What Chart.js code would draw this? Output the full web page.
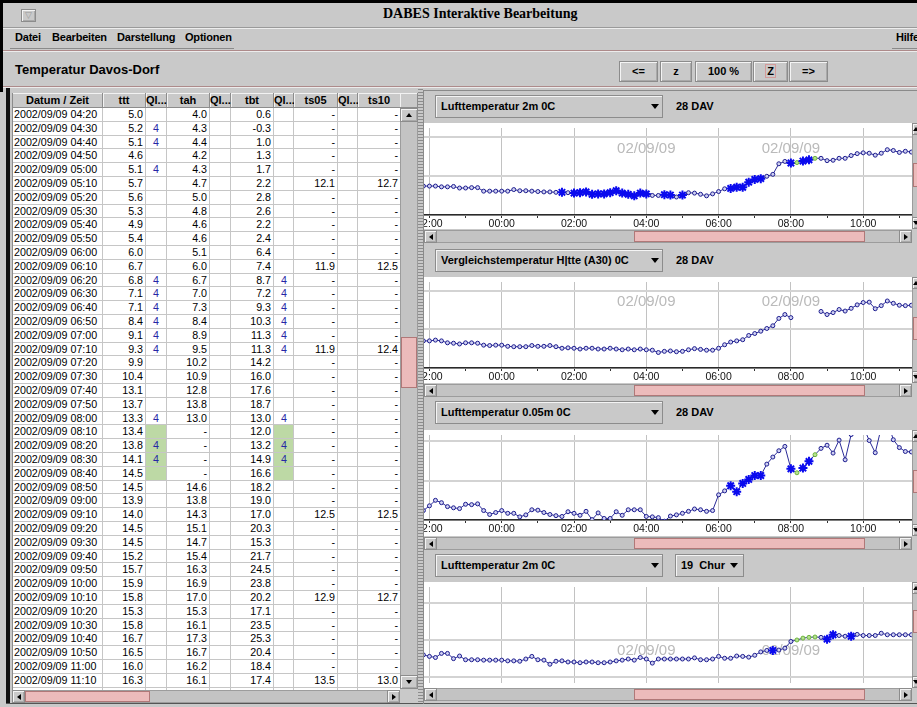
<!DOCTYPE html>
<html lang="de">
<head>
<meta charset="utf-8">
<title>DABES Interaktive Bearbeitung</title>
<script src="https://cdn.jsdelivr.net/npm/chart.js@4.4.1/dist/chart.umd.min.js"></script>
<style>
  html, body { margin: 0; padding: 0; }
  body {
    position: relative; width: 917px; height: 707px; overflow: hidden;
    background: #c9c9c9; color: #000;
    font-family: "Liberation Sans", Arial, Helvetica, sans-serif;
  }
  .a { position: absolute; box-sizing: border-box; }
  .b { font-weight: bold; font-size: 11px; white-space: nowrap; }
  .btn {
    background: #c9c9c9; border: 1px solid #8c8c8c;
    box-shadow: inset 1px 1px 0 #f4f4f4, inset -1px -1px 0 #a9a9a9;
  }
  .combo {
    background: #c9c9c9; border: 1px solid #8c8c8c;
    box-shadow: inset 1px 1px 0 #f4f4f4;
  }
  .thumb {
    background-color: #dea3a3;
    background-image: radial-gradient(circle, #f4c9c9 0.6px, rgba(0,0,0,0) 0.9px);
    background-size: 2px 2px;
    border: 1px solid #b07878;
  }
  .track { background: #c3c3c3; border: 1px solid #9c9c9c; }
  .cell {
    background: #fff; border-right: 1px solid #c6c6c6; border-bottom: 1px solid #c6c6c6;
    font-size: 10.7px; white-space: nowrap; overflow: hidden; line-height: 13px;
  }
  .hcell {
    background: #c9c9c9; border-right: 1px solid #8c8c8c; border-bottom: 1px solid #8c8c8c;
    box-shadow: inset 1px 1px 0 #f2f2f2;
    font-weight: bold; font-size: 11px; text-align: center; line-height: 14px; white-space: nowrap;
  }
  .plotwrap { overflow: hidden; background: #fff; }
  canvas { position: absolute; }
</style>
</head>
<body>
<script>
// ---------------------------------------------------------------------------
// Time grid: one reading every 10 minutes, 2002/09/08 21:50 .. 2002/09/09 11:20
// ---------------------------------------------------------------------------
const firstMinute = -130;          // minutes relative to 2002/09/09 00:00
const stepMinutes = 10;
const dayLabel = '2002/09/09';
const dateMark = '02/09/09';

// Lufttemperatur 2m, Davos (ttt)
const ttt = [
  7.4, 7.4, 7.4, 7.2, 7.2, 7.3, 6.9, 6.9, 7.0, 7.0, 6.1, 6.1, 6.1, 6.1, 6.1, 6.5,
  6.2, 6.2, 6.1, 6.0, 5.9, 5.9, 5.8, 5.8, 5.7, 5.6, 5.7, 5.9, 5.3, 5.4, 5.4, 5.7,
  6.2, 5.6, 5.3, 4.9, 5.6, 5.4, 5.0,
  5.0, 5.2, 5.1, 4.6, 5.1, 5.7, 5.6, 5.3, 4.9, 5.4, 6.0, 6.7, 6.8, 7.1, 7.1, 8.4,
  9.1, 9.3, 9.9, 10.4, 13.1, 13.7, 13.3, 13.4, 13.8, 14.1, 14.5, 14.5, 13.9, 14.0,
  14.5, 14.5, 15.2, 15.7, 15.9, 15.8, 15.3, 15.8, 16.7, 16.5, 16.0, 16.3, 16.1
];
// Vergleichstemperatur Huette (A30), Davos (tah)
const tah = [
  7.0, 7.0, 7.2, 7.0, 6.5, 6.4, 6.2, 6.5, 6.5, 6.4, 5.9, 5.8, 5.9, 5.9, 5.6, 5.5,
  5.5, 5.5, 5.8, 5.6, 5.6, 5.8, 5.5, 5.1, 5.2, 5.1, 4.9, 5.1, 5.1, 4.9, 4.9, 5.1,
  4.9, 4.7, 4.9, 4.7, 4.9, 4.7, 4.6,
  4.0, 4.3, 4.4, 4.2, 4.3, 4.7, 5.0, 4.8, 4.6, 4.6, 5.1, 6.0, 6.7, 7.0, 7.3, 8.4,
  8.9, 9.5, 10.2, 10.9, 12.8, 13.8, 13.0, null, null, null, null, 14.6, 13.8, 14.3,
  15.1, 14.7, 15.4, 16.3, 16.9, 17.0, 15.3, 16.1, 17.3, 16.7, 16.2, 16.1, 16.2
];
// Lufttemperatur 0.05m, Davos (tbt)
const tbt = [
  2.4, 3.6, 5.0, 4.4, 3.4, 3.1, 2.9, 4.0, 3.9, 4.1, 2.4, 1.4, 1.9, 2.4, 1.7, 1.7,
  0.8, 1.3, 2.6, 2.5, 1.9, 1.4, 1.1, 0.9, 2.1, 1.7, 1.2, 2.2, 0.1, 1.8, 0.4, 0.4,
  2.1, 1.2, 2.6, 2.6, 2.6, 0.9, 0.8,
  0.6, -0.3, 1.0, 1.3, 1.7, 2.2, 2.8, 2.6, 2.2, 2.4, 6.4, 7.4, 8.7, 7.2, 9.3, 10.3,
  11.3, 11.3, 14.2, 16.0, 17.6, 18.7, 13.0, 12.0, 13.2, 14.9, 16.6, 18.2, 19.0, 17.0,
  20.3, 15.3, 21.7, 24.5, 23.8, 20.2, 17.1, 23.5, 25.3, 20.4, 18.4, 17.4, 17.3
];
// Lufttemperatur 2m, Chur
const chur = [
  16.0, 15.6, 15.3, 16.4, 16.4, 15.0, 15.7, 14.7, 14.7, 14.7, 14.6, 14.6, 14.6, 14.6,
  14.4, 14.4, 14.3, 14.9, 15.6, 14.7, 14.6, 13.5, 14.3, 14.4, 14.1, 14.1, 13.9, 14.1,
  14.1, 13.9, 13.9, 14.1, 14.4, 14.6, 14.9, 14.6, 15.3, 14.9, 13.8,
  14.9, 14.9, 14.9, 14.9, 14.9, 14.9, 15.2, 14.7, 14.7, 14.9, 15.6, 15.1, 15.1, 15.7,
  15.6, 15.4, 15.9, 16.8, 17.2, 17.2, 17.3, 17.8, 19.6, 20.0, 20.5, 20.7, 20.8, 20.7,
  20.2, 21.4, 21.2, 21.0, 21.0, 21.5, 21.2, 21.2, 21.2, 21.8, 21.4, 21.4, 21.4, 21.4, 21.4
];

// Quality flag 4 (drawn as stars, "4" in the QI column)
const tttFlagged = ['01:40', '02:00', '02:10', '02:20', '02:30', '02:40', '02:50', '03:00',
  '03:10', '03:20', '03:30', '03:40', '03:50', '04:00', '04:30', '04:40', '05:00',
  '06:20', '06:30', '06:40', '06:50', '07:00', '07:10', '08:00', '08:20', '08:30'];
const tahFlagged = [];
const tbtFlagged = ['06:20', '06:30', '06:40', '06:50', '07:00', '07:10', '08:00', '08:20', '08:30'];
const churFlagged = ['07:30', '09:00', '09:10', '09:40'];
// Edited readings (green)
const tttEdited = ['08:10', '08:20', '08:30', '08:40'];
const tahEdited = [];
const tbtEdited = ['08:10', '08:20', '08:30', '08:40'];
const churEdited = ['08:10', '08:20', '08:30', '08:40'];

// Soil temperatures (hourly, table only)
const soilTimes = ['05:10', '06:10', '07:10', '09:10', '10:10', '11:10'];
const ts05 = [12.1, 11.9, 11.9, 12.5, 12.9, 13.5];
const ts10 = [12.7, 12.5, 12.4, 12.5, 12.7, 13.0];

const tableFirstTime = '04:20';
const tableColumns = ['Datum / Zeit', 'ttt', 'Ql...', 'tah', 'Ql...', 'tbt', 'Ql...', 'ts05', 'Ql...', 'ts10'];
const hourTicks = [-120, -60, 0, 60, 120, 180, 240, 300, 360, 420, 480, 540, 600, 660];
const dateMarkMinutes = [240, 480];

// ---------------------------------------------------------------------------
const minuteOf = i => firstMinute + i * stepMinutes;
const hhmm = m => {
  const t = ((m % 1440) + 1440) % 1440;
  return String(Math.floor(t / 60)).padStart(2, '0') + ':' + String(t % 60).padStart(2, '0');
};
const timeOf = i => hhmm(minuteOf(i));
const fmt = v => (v === null || v === undefined) ? '-' : v.toFixed(1);

const body = document.body;
function box(x, y, w, h, cls, css, parent) {
  const d = document.createElement('div');
  d.className = 'a' + (cls ? ' ' + cls : '');
  Object.assign(d.style, { left: x + 'px', top: y + 'px', width: w + 'px', height: h + 'px' }, css || {});
  (parent || body).appendChild(d);
  return d;
}
function text(x, y, w, h, str, cls, css, parent) {
  const d = box(x, y, w, h, cls, Object.assign({ lineHeight: h + 'px' }, css || {}), parent);
  d.textContent = str;
  return d;
}
function arrow(cx, cy, dir, s, parent) {
  const d = document.createElement('div');
  d.className = 'a';
  const st = d.style, t = 'transparent', c = '#000';
  st.width = '0'; st.height = '0';
  if (dir === 'up' || dir === 'down') {
    st.borderLeft = s + 'px solid ' + t; st.borderRight = s + 'px solid ' + t;
    st[dir === 'down' ? 'borderTop' : 'borderBottom'] = (s + 1) + 'px solid ' + c;
    st.left = (cx - s) + 'px'; st.top = (cy - (s + 1) / 2) + 'px';
  } else {
    st.borderTop = s + 'px solid ' + t; st.borderBottom = s + 'px solid ' + t;
    st[dir === 'right' ? 'borderLeft' : 'borderRight'] = (s + 1) + 'px solid ' + c;
    st.left = (cx - (s + 1) / 2) + 'px'; st.top = (cy - s) + 'px';
  }
  (parent || body).appendChild(d);
}
function hScroll(x, y, w, h, t0, t1) {
  box(x, y, w, h, 'track');
  box(t0, y + 1, t1 - t0, h - 2, 'thumb');
  box(x, y, h, h, 'btn'); arrow(x + h / 2, y + h / 2, 'left', 3);
  box(x + w - h, y, h, h, 'btn'); arrow(x + w - h / 2, y + h / 2, 'right', 3);
}
function vScroll(x, y, w, h, btn, t0, t1, arrowX) {
  box(x, y, w, h, 'track');
  box(x + 1, t0, w - 2, t1 - t0, 'thumb');
  box(x, y, w, btn, 'btn'); arrow(arrowX, y + btn / 2, 'up', 3);
  box(x, y + h - btn, w, btn, 'btn'); arrow(arrowX, y + h - btn / 2, 'down', 3);
}

// ---------------------------------------------------------------------------
// Window frame, title bar, menu
// ---------------------------------------------------------------------------
box(0, 0, 917, 3, '', { background: '#000' });
box(0, 0, 3, 92, '', { background: '#000' });
box(6, 88, 4, 616, '', { background: '#111' });
box(6, 703, 911, 1, '', { background: '#555' });

box(21, 9, 15, 13, 'btn');
text(21, 8, 15, 14, '\u25BD', '', { fontSize: '9px', color: '#9a9a9a', textAlign: 'center' });
text(383, 5, 300, 18, 'DABES Interaktive Bearbeitung', '',
  { fontFamily: '"Liberation Serif", "Times New Roman", serif', fontWeight: 'bold', fontSize: '14px' });
box(3, 27, 914, 1, '', { background: '#9a9a9a' });
box(3, 28, 914, 1, '', { background: '#ededed' });

const menu = [['Datei', 15], ['Bearbeiten', 52], ['Darstellung', 117], ['Optionen', 185], ['Hilfe', 896]];
menu.forEach(([t, x]) => text(x, 30, 80, 14, t, 'b', { letterSpacing: '-0.2px' }));
box(10, 48, 224, 1, '', { background: '#8a8a8a' });
box(892, 48, 25, 1, '', { background: '#8a8a8a' });
box(3, 50, 914, 1, '', { background: '#ad8a8a' });
box(3, 51, 914, 1, '', { background: '#ececec' });

text(15, 62, 250, 16, 'Temperatur  Davos-Dorf', '', { fontWeight: 'bold', fontSize: '13px' });

// zoom / navigation buttons
const navButtons = [['<=', 619, 658], ['z', 660, 692], ['100 %', 695, 752], ['Z', 753, 788], ['=>', 789, 828]];
navButtons.forEach(([t, x0, x1]) => {
  const b = box(x0, 61, x1 - x0, 21, 'btn b', { textAlign: 'center', lineHeight: '19px' });
  if (t === 'Z') {
    const s = document.createElement('span');
    s.textContent = t;
    Object.assign(s.style, { border: '1px solid #d49a9a', padding: '0 1px' });
    b.appendChild(s);
  } else {
    b.textContent = t;
  }
});
box(3, 86, 914, 1, '', { background: '#ad8a8a' });
box(3, 87, 914, 1, '', { background: '#ececec' });

// ---------------------------------------------------------------------------
// Data table (left)
// ---------------------------------------------------------------------------
const colEdges = [12, 102, 145, 166, 209, 230, 273, 293, 337, 357, 400];
const tableTop = 93, headH = 15, rowH = 13.8;
const tbl = box(12, tableTop, 388, 597, '', { overflow: 'hidden', background: '#fff', borderLeft: '1px solid #8c8c8c' });
tableColumns.forEach((t, c) => {
  const d = text(colEdges[c] - 12, 0, colEdges[c + 1] - colEdges[c], headH, t, 'hcell', { lineHeight: '14px' }, tbl);
  if (c === 0) d.style.boxShadow = 'inset 0 1px 0 #f2f2f2';
});

const firstRow = ttt.findIndex((_, i) => timeOf(i) === tableFirstTime);
for (let i = firstRow, r = 0; i < ttt.length; i++, r++) {
  const t = timeOf(i);
  const y0 = headH + Math.round(r * rowH), y1 = headH + Math.round((r + 1) * rowH);
  const si = soilTimes.indexOf(t);
  const cells = [
    { v: dayLabel + ' ' + t, al: 'left' },
    { v: fmt(ttt[i]) },
    { v: tttFlagged.includes(t) ? '4' : '', qi: true, g: tttEdited.includes(t) },
    { v: fmt(tah[i]) },
    { v: tahFlagged.includes(t) ? '4' : '', qi: true, g: tahEdited.includes(t) },
    { v: fmt(tbt[i]) },
    { v: tbtFlagged.includes(t) ? '4' : '', qi: true, g: tbtEdited.includes(t) },
    { v: si >= 0 ? fmt(ts05[si]) : '-' },
    { v: '', qi: true },
    { v: si >= 0 ? fmt(ts10[si]) : '-' }
  ];
  cells.forEach((cell, c) => {
    const css = {};
    if (cell.al === 'left') { css.textAlign = 'left'; css.paddingLeft = '1px'; }
    else if (cell.qi) { css.textAlign = 'left'; css.paddingLeft = '7px'; css.color = '#2626a6'; }
    else { css.textAlign = 'right'; css.paddingRight = '2px'; }
    if (cell.g) css.background = '#bdd9a5';
    css.lineHeight = (y1 - y0 - 1) + 'px';
    text(colEdges[c] - 12, y0, colEdges[c + 1] - colEdges[c], y1 - y0, cell.v, 'cell', css, tbl);
  });
}
// table scroll bars
box(400, tableTop, 18, headH, 'hcell');
vScroll(400, 108, 18, 581, 14, 337, 388, 409);
hScroll(12, 690, 388, 13, 25, 150);
box(400, 690, 18, 13, '', { background: '#c9c9c9' });

// splitter
box(418, 88, 5, 616, '', {
  backgroundImage: 'radial-gradient(circle, #8c8c8c 0.55px, rgba(0,0,0,0) 0.85px)',
  backgroundSize: '2px 3px'
});

// ---------------------------------------------------------------------------
// Chart panels (right)
// ---------------------------------------------------------------------------
box(423, 90, 494, 614, '', { borderLeft: '1px solid #8a8a8a', borderTop: '1px solid #8a8a8a' });

const dateMarks = {
  id: 'dateMarks',
  beforeDatasetsDraw(chart, args, opts) {
    if (opts.value === null || opts.value === undefined) return;
    const { ctx, scales: { x, y } } = chart;
    ctx.save();
    ctx.font = '15px "Liberation Sans", Arial, sans-serif';
    ctx.fillStyle = '#bababa';
    ctx.textAlign = 'center';
    ctx.textBaseline = 'middle';
    opts.at.forEach(m => ctx.fillText(opts.text, x.getPixelForValue(m), y.getPixelForValue(opts.value)));
    ctx.restore();
  }
};

const panels = [
  { title: 'Lufttemperatur 2m 0C', station: '28 DAV', comboTop: 95, top: 123, plotH: 92,
    yMin: 0, yMax: 22.25, values: ttt, flagged: tttFlagged, edited: tttEdited, axis: true,
    dateValue: 17, vThumb: [163, 187] },
  { title: 'Vergleichstemperatur H|tte (A30) 0C', station: '28 DAV', comboTop: 249, top: 277, plotH: 91,
    yMin: 0, yMax: 22.2, values: tah, flagged: tahFlagged, edited: tahEdited, axis: true,
    dateValue: 17, vThumb: [317, 340] },
  { title: 'Lufttemperatur 0.05m 0C', station: '28 DAV', comboTop: 401, top: 430, plotH: 90,
    yMin: 0, yMax: 21.6, values: tbt, flagged: tbtFlagged, edited: tbtEdited, axis: true,
    dateValue: null, vThumb: [470, 493] },
  { title: 'Lufttemperatur 2m 0C', station: '19  Chur', stationCombo: true, comboTop: 554, top: 582, plotH: 106,
    yMin: 8.47, yMax: 34.2, values: chur, flagged: churFlagged, edited: churEdited, axis: false,
    dateValue: 17, vThumb: [610, 633] }
];
const plotX = 424, plotW = 488, panelH = 106, bleed = 24;
const xMin = -129, xMax = 681;
const yGrid = [0, 10, 20, 30];
const pointColors = {
  star:  { border: '#0a0aee', fill: '#0a0aee', r: 4.5, w: 2 },
  edit:  { border: '#6cb43a', fill: '#b6e290', r: 2, w: 1 },
  plain: { border: '#1d1d8e', fill: '#cfd0f2', r: 2, w: 1 }
};

panels.forEach(p => {
  // selector row
  box(435, p.comboTop, 228, 23, 'combo');
  text(441, p.comboTop, 210, 23, p.title, 'b', { lineHeight: '22px' });
  arrow(655, p.comboTop + 11.5, 'down', 4);
  if (p.stationCombo) {
    box(675, p.comboTop, 69, 23, 'combo');
    text(681, p.comboTop, 50, 23, p.station, 'b', { lineHeight: '22px', whiteSpace: 'pre' });
    arrow(734, p.comboTop + 11.5, 'down', 4);
  } else {
    text(676, p.comboTop, 80, 23, p.station, 'b', { lineHeight: '22px' });
  }

  // chart: the canvas is a little wider than its frame so edge labels get cut by the frame
  const wrap = box(plotX, p.top, plotW, panelH, 'plotwrap');
  const cv = document.createElement('canvas');
  cv.width = plotW + 2 * bleed; cv.height = panelH;
  Object.assign(cv.style, { left: -bleed + 'px', top: '0px', width: cv.width + 'px', height: panelH + 'px' });
  wrap.appendChild(cv);

  const kind = c => {
    const t = timeOf(c.dataIndex);
    return p.flagged.includes(t) ? 'star' : (p.edited.includes(t) ? 'edit' : 'plain');
  };
  new Chart(cv, {
    type: 'line',
    data: {
      datasets: [{
        data: p.values.map((v, i) => ({ x: minuteOf(i), y: v })),
        borderColor: '#2b2b98',
        borderWidth: 1,
        tension: 0,
        spanGaps: false,
        pointStyle: c => kind(c) === 'star' ? 'star' : 'circle',
        pointRadius: c => pointColors[kind(c)].r,
        pointBorderWidth: c => pointColors[kind(c)].w,
        pointBorderColor: c => pointColors[kind(c)].border,
        pointBackgroundColor: c => pointColors[kind(c)].fill
      }]
    },
    options: {
      responsive: false,
      maintainAspectRatio: false,
      animation: false,
      devicePixelRatio: 1,
      events: [],
      layout: { padding: { left: bleed, right: bleed, top: 0, bottom: 0 } },
      plugins: {
        legend: { display: false },
        tooltip: { enabled: false },
        dateMarks: { value: p.dateValue, at: dateMarkMinutes, text: dateMark }
      },
      scales: {
        x: {
          type: 'linear', min: xMin, max: xMax,
          afterBuildTicks: s => { s.ticks = hourTicks.map(v => ({ value: v })); },
          afterFit: s => { s.paddingLeft = 0; s.paddingRight = 0; s.height = panelH - p.plotH; },
          grid: {
            color: c => (c.tick && c.tick.value % 120 === 0) ? '#c2c2c2' : 'rgba(0,0,0,0)',
            lineWidth: 1,
            drawTicks: p.axis, tickLength: 3, tickColor: '#333', tickWidth: 1
          },
          border: { display: p.axis, color: '#2a2a2a', width: 1.5 },
          ticks: {
            display: p.axis, autoSkip: false, maxRotation: 0, minRotation: 0, padding: 0,
            color: '#111', font: { family: '"Liberation Sans", Arial, sans-serif', size: 10.5 },
            callback: v => (v % 120 === 0) ? hhmm(v) : ''
          }
        },
        y: {
          type: 'linear', min: p.yMin, max: p.yMax,
          afterBuildTicks: s => { s.ticks = yGrid.filter(v => v >= p.yMin && v <= p.yMax).map(v => ({ value: v })); },
          afterFit: s => { s.width = 0; },
          grid: { color: '#d3d3d3', lineWidth: 2, drawTicks: false },
          border: { display: false },
          ticks: { display: false }
        }
      }
    },
    plugins: [dateMarks]
  });

  // vertical (value) scroller and horizontal (time) scroller
  vScroll(912, p.top, 12, panelH, 12, p.vThumb[0], p.vThumb[1], 916);
  hScroll(plotX, p.top + panelH + (p.axis ? 1 : 0), plotW, 13, 634, 865);
});
</script>
</body>
</html>
